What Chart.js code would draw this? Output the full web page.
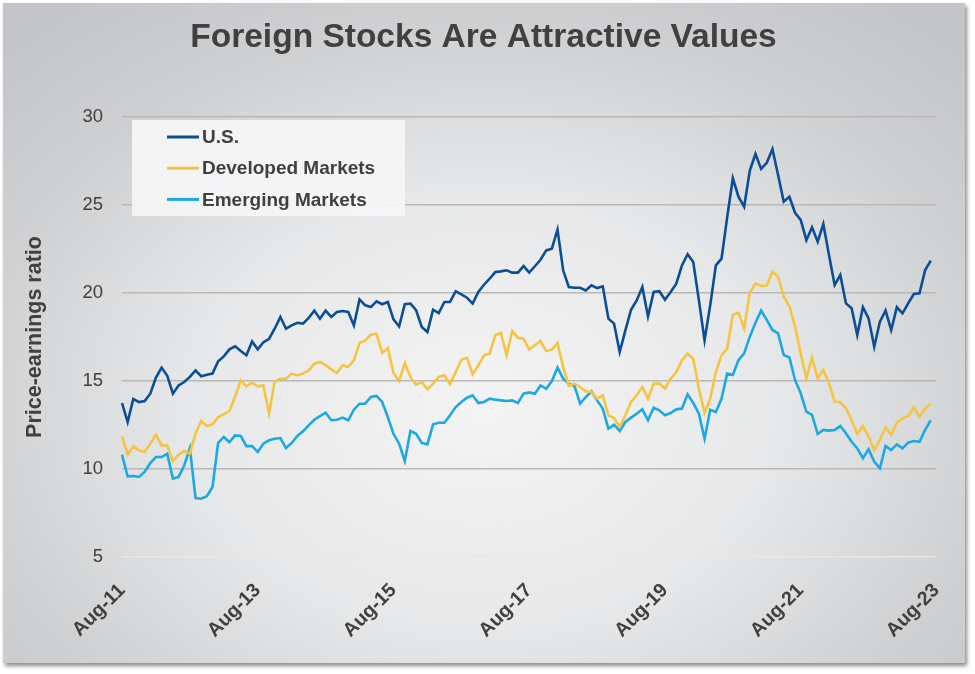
<!DOCTYPE html>
<html>
<head>
<meta charset="utf-8">
<script src="https://cdn.jsdelivr.net/npm/chart.js@4.4.0/dist/chart.umd.min.js"></script>
<style>
  html, body { margin:0; padding:0; background:#ffffff; }
  #frame { position:absolute; left:3px; top:3px; width:962px; height:660px;
    background: radial-gradient(ellipse 72% 78% at 50% 62%, #f4f4f4 0%, #e7e8e9 42%, #cfd0d2 75%, #c3c5c8 100%);
    box-shadow: 2px 3px 4px rgba(0,0,0,0.45); }
  #wrap { position:absolute; left:0; top:0; width:975px; height:674px; }
</style>
</head>
<body>
<div id="frame"></div>
<div id="wrap"><canvas id="c" width="975" height="674"></canvas></div>
<script>
const chartTitle = "Foreign Stocks Are Attractive Values";
const yAxisTitle = "Price-earnings ratio";
const seriesNames = ["U.S.", "Developed Markets", "Emerging Markets"];
const tickLabels = ["Aug-11","Aug-13","Aug-15","Aug-17","Aug-19","Aug-21","Aug-23"];
const monthNames = ["Jan","Feb","Mar","Apr","May","Jun","Jul","Aug","Sep","Oct","Nov","Dec"];

// monthly categories Aug-11 .. Aug-23
const months = [];
for (let y = 2011, m = 7; !(y === 2023 && m === 8); ) {
  months.push(monthNames[m] + "-" + String(y).slice(2));
  m++; if (m === 12) { m = 0; y++; }
}

const usPE = [13.75,12.67,13.98,13.8,13.86,14.28,15.2,15.76,15.3,14.28,14.75,14.94,15.23,15.6,15.27,15.36,15.42,16.12,16.4,16.8,16.97,16.7,16.46,17.25,16.8,17.2,17.4,17.97,18.64,17.97,18.16,18.31,18.26,18.58,19.0,18.54,19.0,
18.64,18.92,18.98,18.92,18.16,19.64,19.3,19.2,19.53,19.36,19.49,18.5,18.1,19.36,19.4,19.02,18.07,17.78,19.05,18.86,19.49,19.49,20.1,19.92,19.73,19.4,20.06,20.47,20.81,21.19,21.23,21.29,21.16,21.16,21.53,21.16,
21.52,21.89,22.42,22.52,23.6,21.29,20.34,20.3,20.3,20.15,20.44,20.28,20.38,18.54,18.26,16.65,17.88,19.05,19.58,20.34,18.67,20.06,20.1,19.62,20.06,20.53,21.57,22.2,21.76,19.58,17.31,19.3,21.57,21.95,24.3,
26.52,25.47,24.9,26.95,27.9,27.05,27.4,28.18,26.7,25.19,25.47,24.56,24.15,23.0,23.73,22.92,23.92,22.16,20.45,21.02,19.41,19.13,17.61,19.19,18.56,16.95,18.37,19.0,17.9,19.19,18.84,19.41,19.94,19.98,21.3,21.84];

const dmPE = [11.86,10.81,11.3,11.06,10.97,11.44,11.95,11.34,11.34,10.45,10.81,11.02,10.87,12.0,12.73,12.44,12.54,12.95,13.1,13.3,14.1,15.04,14.7,14.9,14.7,14.75,13.14,14.98,15.13,15.13,15.42,15.32,15.42,15.6,15.98,16.08,15.9,
15.66,15.45,15.89,15.8,16.17,17.16,17.31,17.63,17.69,16.59,16.88,15.45,15.0,16.02,15.23,14.79,14.94,14.53,14.85,15.23,15.32,14.81,15.51,16.21,16.31,15.38,15.89,16.46,16.55,17.6,17.73,16.46,17.84,17.46,17.4,16.8,
17.03,17.27,16.7,16.78,17.16,15.8,14.72,14.85,14.66,14.41,14.38,14.0,14.19,13.05,12.9,12.39,13.05,13.81,14.19,14.66,14.0,14.85,14.85,14.56,15.13,15.51,16.17,16.55,16.27,14.56,13.18,14.0,15.51,16.46,16.84,
18.75,18.88,17.99,20.02,20.55,20.4,20.42,21.21,20.93,19.79,19.26,18.09,16.57,15.15,16.34,15.15,15.63,14.87,13.83,13.79,13.45,12.78,11.99,12.44,11.84,11.08,11.65,12.37,11.93,12.63,12.88,13.01,13.5,12.97,13.45,13.69];

const emPE = [10.81,9.58,9.6,9.55,9.83,10.34,10.68,10.68,10.87,9.45,9.55,10.2,11.19,8.35,8.31,8.45,8.98,11.48,11.82,11.53,11.91,11.88,11.3,11.3,10.97,11.44,11.63,11.72,11.76,11.19,11.48,11.88,12.14,12.48,12.8,13.0,13.2,
12.77,12.8,12.92,12.77,13.37,13.71,13.71,14.09,14.15,13.81,12.95,12.0,11.44,10.45,12.16,12.0,11.48,11.4,12.54,12.63,12.63,13.05,13.52,13.81,14.05,14.19,13.75,13.81,14.0,13.94,13.9,13.86,13.9,13.75,14.28,14.35,
14.28,14.75,14.56,15.0,15.76,15.13,14.85,14.72,13.71,14.09,14.41,13.9,13.43,12.29,12.52,12.16,12.67,12.92,13.14,13.39,12.77,13.48,13.33,13.05,13.18,13.39,13.43,14.24,13.75,13.14,11.72,13.37,13.24,14.0,15.42,
15.34,16.19,16.57,17.52,18.31,19.0,18.47,17.9,17.71,16.48,16.34,15.06,14.3,13.26,13.07,11.99,12.22,12.18,12.22,12.44,12.03,11.55,11.17,10.61,11.12,10.42,10.04,11.31,11.08,11.4,11.17,11.5,11.59,11.55,12.22,12.78];

const seriesColors = ["#0c4e93", "#f5c443", "#1ca9e2"];
const textColor = "#404040";
const FONT = "'Liberation Sans', Arial, sans-serif";

const titlePlugin = {
  id: 'mainTitle',
  afterDraw(chart) {
    const ctx = chart.ctx;
    ctx.save();
    ctx.font = "bold 33.5px " + FONT;
    ctx.fillStyle = textColor;
    ctx.textAlign = "center";
    ctx.textBaseline = "middle";
    ctx.fillText(chartTitle, 483.5, 38);
    ctx.restore();
  }
};

const legendPlugin = {
  id: 'boxLegend',
  beforeDatasetsDraw(chart) {
    const ctx = chart.ctx;
    const area = chart.chartArea;
    const x0 = area.left + 10, y0 = area.top + 3;
    ctx.save();
    ctx.fillStyle = "rgba(246,246,247,0.92)";
    ctx.fillRect(x0, y0, 273, 96);
    ctx.font = "bold 19px " + FONT;
    ctx.textBaseline = "middle";
    chart.data.datasets.forEach((ds, i) => {
      const yy = y0 + 17 + i * 31.2;
      ctx.strokeStyle = ds.borderColor;
      ctx.lineWidth = 3;
      ctx.beginPath();
      ctx.moveTo(x0 + 35, yy);
      ctx.lineTo(x0 + 67, yy);
      ctx.stroke();
      ctx.fillStyle = textColor;
      ctx.fillText(ds.label, x0 + 70, yy + 1);
    });
    ctx.restore();
  }
};

new Chart(document.getElementById('c'), {
  type: 'line',
  data: {
    labels: months,
    datasets: [
      { label: seriesNames[0], data: usPE, borderColor: seriesColors[0] },
      { label: seriesNames[1], data: dmPE, borderColor: seriesColors[1] },
      { label: seriesNames[2], data: emPE, borderColor: seriesColors[2] }
    ].map(d => Object.assign(d, { borderWidth: 2.6, pointRadius: 0, tension: 0, fill: false }))
  },
  options: {
    responsive: false,
    animation: false,
    layout: { padding: { top: 117, right: 37, bottom: 0, left: 0 } },
    plugins: {
      legend: { display: false },
      tooltip: { enabled: false },
      title: { display: false }
    },
    scales: {
      x: {
        type: 'category',
        grid: { display: false, drawTicks: false },
        border: { display: false },
        afterFit(scale) { scale.height = 117; },
        ticks: {
          autoSkip: false,
          minRotation: 45,
          maxRotation: 45,
          padding: 22,
          color: textColor,
          font: { family: FONT, size: 19.5, weight: 'bold' },
          callback(val, idx) {
            const lab = months[idx];
            return tickLabels.includes(lab) ? lab : null;
          }
        }
      },
      y: {
        min: 5,
        max: 30,
        afterFit(scale) { scale.width = 122; },
        border: { display: false },
        grid: {
          drawTicks: false,
          lineWidth: 1.5,
          color: (ctx) => (ctx.tick && ctx.tick.value === 5) ? '#e8e8e8' : '#b8b8b8'
        },
        ticks: {
          stepSize: 5,
          padding: 19,
          color: textColor,
          font: { family: FONT, size: 18.5 }
        },
        title: {
          display: true,
          text: yAxisTitle,
          color: textColor,
          padding: { top: 22, bottom: 0 },
          font: { family: FONT, size: 21.5, weight: 'bold' }
        }
      }
    }
  },
  plugins: [titlePlugin, legendPlugin]
});
</script>
</body>
</html>
